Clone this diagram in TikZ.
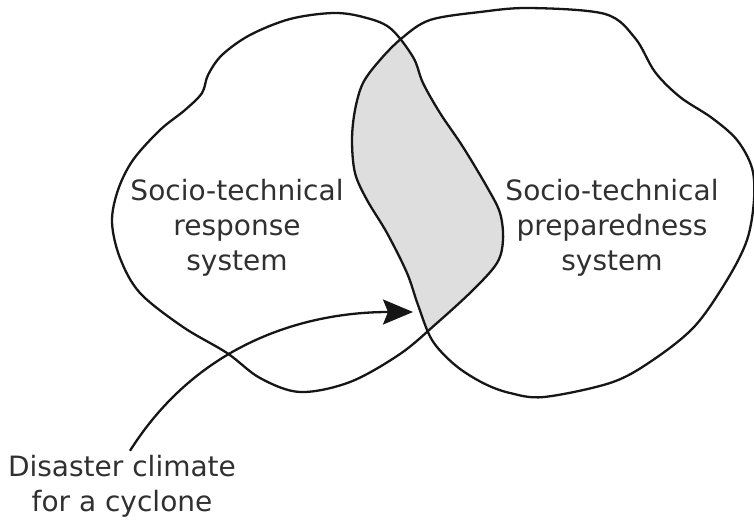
\documentclass[tikz,border=0pt]{standalone}
\usepackage{fontspec}
\setmainfont{DejaVu Sans}
\usetikzlibrary{arrows.meta}
\definecolor{linecol}{HTML}{161616}
\definecolor{txtcol}{HTML}{303030}
\definecolor{shadecol}{HTML}{DEDEDE}
\begin{document}
\begin{tikzpicture}[x=1pt,y=-1pt,
  outline/.style={draw=linecol, line width=2.3pt, line join=round},
  lbl/.style={text=txtcol, font=\fontsize{28}{35}\selectfont, align=center, inner sep=0pt},
  arrowline/.style={draw=linecol, line width=2.3pt, -{Stealth[length=30pt,width=25pt,inset=5pt]}}
]
\useasboundingbox (0,0) rectangle (754,519);
\def\leftblob{plot[smooth cycle, tension=0.55] coordinates {
  (333,13) (363,17) (390,28) (413,57) (423,83) (440,113) (463,147) (487,187)
  (500,213) (503,240) (497,263) (473,290) (437,323) (400,354) (350,382) (300,392)
  (260,378) (227,353) (183,327) (140,293) (120,258) (112,222) (118,190) (133,160)
  (160,130) (185,110) (202,93) (208,75) (222,55) (250,35) (290,19)}}
\def\rightblob{plot[smooth cycle, tension=0.55] coordinates {
  (402,38) (430,20) (480,12) (530,8) (605,14) (635,38) (655,72) (680,97)
  (712,118) (737,140) (752,168) (754,200) (747,240) (727,280) (694,327) (650,362)
  (610,383) (544,397) (510,393) (483,383) (455,365) (432,340) (418,305) (407,273)
  (387,233) (367,200) (355,173) (352,140) (355,110) (363,83) (380,60)}}
\begin{scope}
  \clip \leftblob;
  \fill[shadecol] \rightblob;
\end{scope}
\path[outline] \leftblob;
\path[outline] \rightblob;
\node[lbl] (resp) at (237,228) {Socio-technical\\response\\system};
\node[lbl] (prep) at (612,228) {Socio-technical\\preparedness\\system};
\node[lbl] (dis) at (122,486) {Disaster climate\\for a cyclone};
\coordinate (tip) at (413,312);
\draw[arrowline] ([xshift=8pt,yshift=4pt]dis.north) .. controls (200,340) and (310,312) .. (tip);
\end{tikzpicture}
\end{document}
